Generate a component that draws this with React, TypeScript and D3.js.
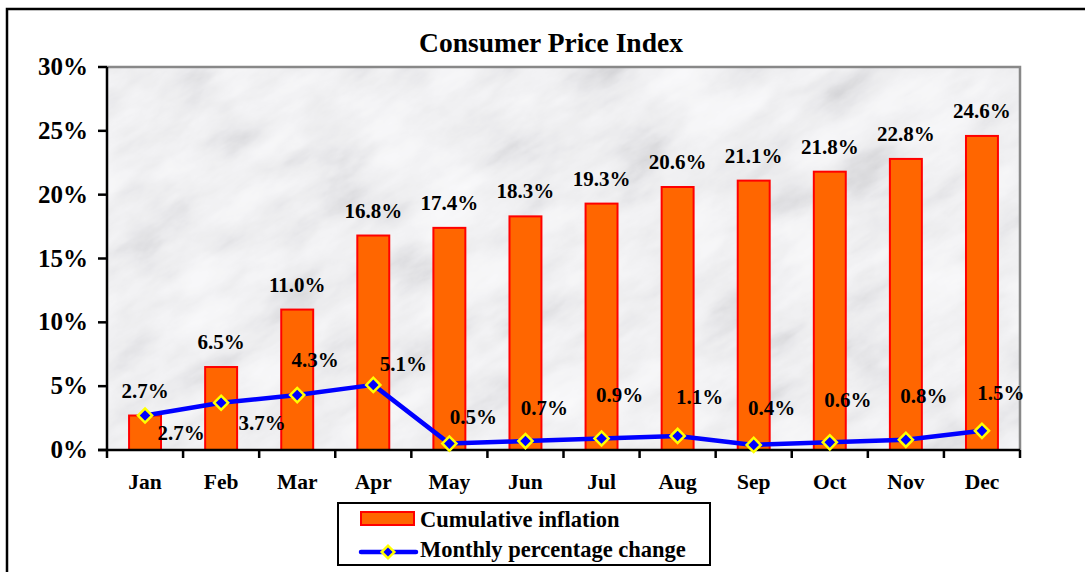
import React from "react";
import * as d3 from "d3";

const months = ["Jan", "Feb", "Mar", "Apr", "May", "Jun", "Jul", "Aug", "Sep", "Oct", "Nov", "Dec"];
const cumulative = [2.7, 6.5, 11.0, 16.8, 17.4, 18.3, 19.3, 20.6, 21.1, 21.8, 22.8, 24.6];
const monthly = [2.7, 3.7, 4.3, 5.1, 0.5, 0.7, 0.9, 1.1, 0.4, 0.6, 0.8, 1.5];
const yTicks = [0, 5, 10, 15, 20, 25, 30];
// label offsets (layout only) for the monthly series labels
const monthlyLabelDx = [36, 41, 18, 30, 24, 19, 18, 22, 18, 18, 18, 19];
const monthlyLabelDy = [17, 20, -35, -21, -27, -33, -44, -39, -37, -42, -44, -38];

const W = 1085;
const H = 572;
const left = 107, right = 1020, top = 67, bottom = 450;
const FONT = "'Liberation Serif', 'Times New Roman', serif";

export default function App() {
  const x = d3.scaleBand<string>().domain(months).range([left, right]).paddingInner(0.58).paddingOuter(0.29);
  const y = d3.scaleLinear().domain([0, 30]).range([bottom, top]);
  const step = x.step();
  const cx = (m: string) => (x(m) as number) + x.bandwidth() / 2;

  const line = d3.line<number>().x((_, i) => cx(months[i])).y((d) => y(d));
  const diamond = d3.symbol().type(d3.symbolSquare).size(100)();
  const diamondSmall = d3.symbol().type(d3.symbolSquare).size(80)();
  const boundaries = d3.range(months.length + 1).map((i) => left + i * step);
  const table = "0.58 0.62 0.68 0.75 0.82 0.87 0.905 0.93 0.95 0.96 0.97";
  const tableB = "0.6 0.64 0.7 0.77 0.84 0.885 0.92 0.945 0.96 0.97 0.98";

  return (
    <svg width={W} height={H} style={{ position: "absolute", left: 0, top: 0, background: "#fff" }} fontFamily={FONT}>
      <defs>
        <filter id="marble" x="0" y="0" width="100%" height="100%" filterUnits="objectBoundingBox">
          <feTurbulence type="fractalNoise" baseFrequency="0.011 0.028" numOctaves="6" seed="23" result="t" />
          <feColorMatrix
            in="t"
            type="matrix"
            result="g"
            values="0.6 0.4 0 0 0  0.6 0.4 0 0 0  0.6 0.4 0 0 0  0 0 0 0 1"
          />
          <feComponentTransfer in="g">
            <feFuncR type="table" tableValues={table} />
            <feFuncG type="table" tableValues={table} />
            <feFuncB type="table" tableValues={tableB} />
          </feComponentTransfer>
        </filter>
        <clipPath id="plotClip">
          <rect x={left} y={top} width={right - left} height={bottom - top} />
        </clipPath>
      </defs>

      {/* outer frame */}
      <rect x={7} y={9} width={1200} height={700} fill="none" stroke="#000" strokeWidth={2.5} />

      {/* plot background */}
      <g clipPath="url(#plotClip)">
        <rect x={left} y={top} width={right - left} height={bottom - top} fill="#e2e2e4" />
        <rect
          x={-200}
          y={-400}
          width={1500}
          height={1200}
          filter="url(#marble)"
          transform={`rotate(-32 ${(left + right) / 2} ${(top + bottom) / 2})`}
        />
      </g>
      <polyline
        points={`${left},${top} ${right},${top} ${right},${bottom}`}
        fill="none"
        stroke="#888"
        strokeWidth={2.5}
      />

      {/* title */}
      <text x={551} y={52} textAnchor="middle" fontSize={27.5} fontWeight="bold" fill="#000">
        Consumer Price Index
      </text>

      {/* bars */}
      {cumulative.map((v, i) => (
        <rect
          key={"b" + i}
          x={x(months[i])}
          y={y(v)}
          width={x.bandwidth()}
          height={bottom - y(v)}
          fill="#FF6600"
          stroke="#FF0000"
          strokeWidth={2}
        />
      ))}

      {/* axes */}
      <line x1={left} y1={top} x2={left} y2={bottom} stroke="#000" strokeWidth={2.5} />
      {yTicks.map((t) => (
        <g key={"yt" + t}>
          <line x1={left - 9} x2={left} y1={y(t)} y2={y(t)} stroke="#000" strokeWidth={2.5} />
          <text x={88} y={y(t) + 8} textAnchor="end" fontSize={25} fontWeight="bold" fill="#000">
            {t}%
          </text>
        </g>
      ))}
      <line x1={left - 9} y1={bottom} x2={right} y2={bottom} stroke="#000" strokeWidth={2.5} />
      {boundaries.map((bx, i) => (
        <line key={"xt" + i} x1={bx} x2={bx} y1={bottom} y2={bottom + 8} stroke="#000" strokeWidth={2.5} />
      ))}
      {months.map((m) => (
        <text key={"xl" + m} x={cx(m)} y={489} textAnchor="middle" fontSize={21.5} fontWeight="bold" fill="#000">
          {m}
        </text>
      ))}

      {/* bar labels */}
      {cumulative.map((v, i) => (
        <text
          key={"bl" + i}
          x={cx(months[i])}
          y={y(v) - 18}
          textAnchor="middle"
          fontSize={21}
          fontWeight="bold"
          fill="#000"
        >
          {v.toFixed(1)}%
        </text>
      ))}

      {/* line */}
      <path d={line(monthly) || ""} fill="none" stroke="#0000FF" strokeWidth={4.5} strokeLinejoin="round" />
      {monthly.map((v, i) => (
        <path
          key={"m" + i}
          d={diamond || ""}
          transform={`translate(${cx(months[i])},${y(v)}) rotate(45)`}
          fill="#0000FF"
          stroke="#FFFF00"
          strokeWidth={2.5}
        />
      ))}
      {monthly.map((v, i) => (
        <text
          key={"ml" + i}
          x={cx(months[i]) + monthlyLabelDx[i]}
          y={y(v) + monthlyLabelDy[i] + 7}
          textAnchor="middle"
          fontSize={21}
          fontWeight="bold"
          fill="#000"
        >
          {v.toFixed(1)}%
        </text>
      ))}

      {/* legend */}
      <rect x={338} y={503} width={372} height={62} fill="#fff" stroke="#000" strokeWidth={2} />
      <rect x={361} y={512} width={53} height={13} fill="#FF6600" stroke="#FF0000" strokeWidth={2} />
      <text x={420} y={527} fontSize={22.5} fontWeight="bold" fill="#000">
        Cumulative inflation
      </text>
      <line x1={361} x2={416} y1={552} y2={552} stroke="#0000FF" strokeWidth={4.5} strokeLinecap="round" />
      <path
        d={diamondSmall || ""}
        transform={`translate(388,552) rotate(45)`}
        fill="#0000FF"
        stroke="#FFFF00"
        strokeWidth={2.5}
      />
      <text x={420} y={557} fontSize={22.5} fontWeight="bold" fill="#000">
        Monthly percentage change
      </text>
    </svg>
  );
}
